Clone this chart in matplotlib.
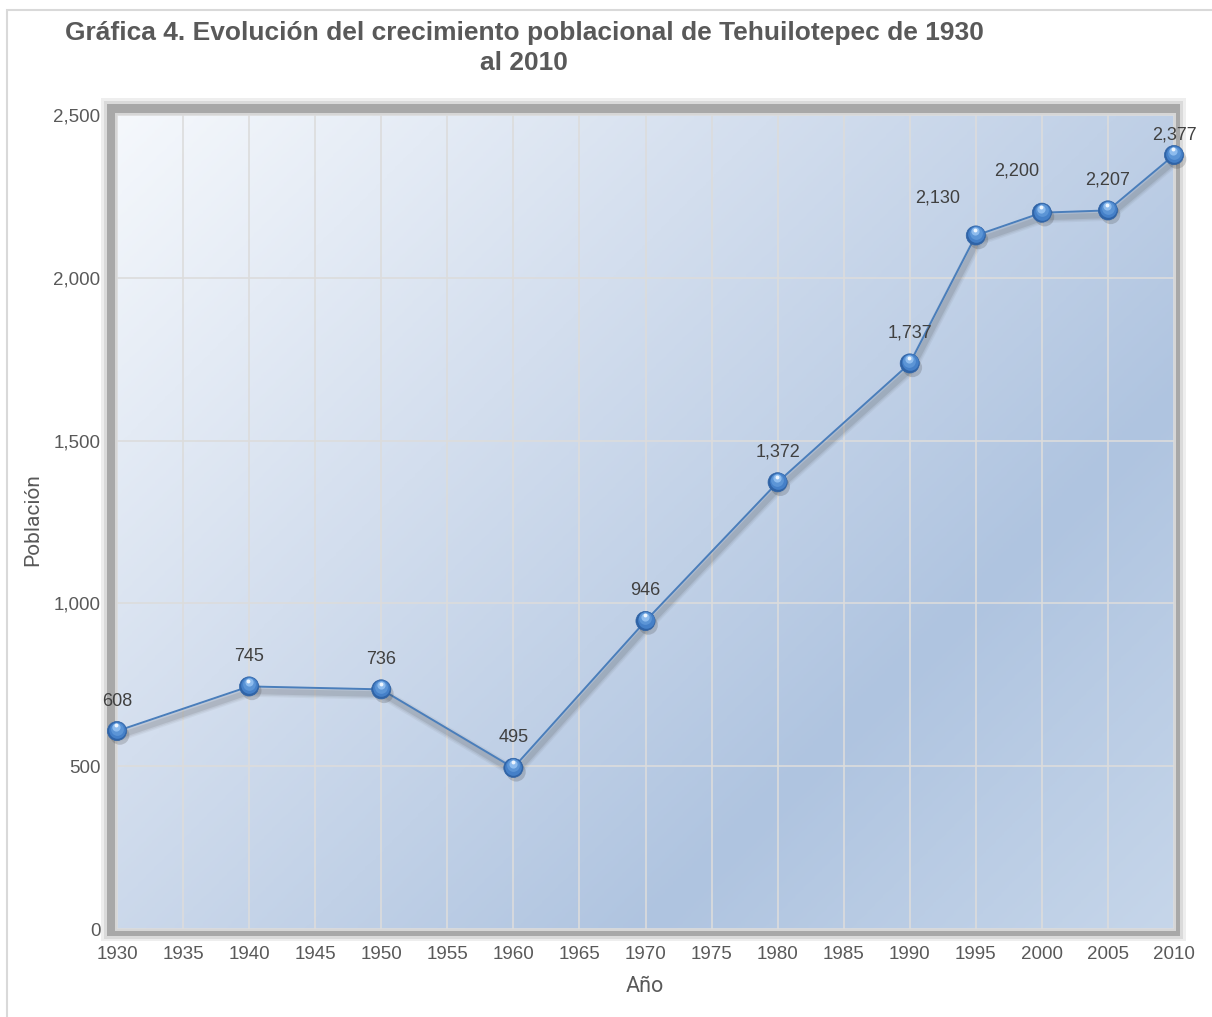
import matplotlib
matplotlib.use("Agg")
import matplotlib.pyplot as plt
import matplotlib.patheffects as pe
from matplotlib.patches import Rectangle
from matplotlib.colors import LinearSegmentedColormap
from matplotlib.transforms import offset_copy
import numpy as np

# --- datos ---
years = [1930, 1940, 1950, 1960, 1970, 1980, 1990, 1995, 2000, 2005, 2010]
poblacion = [608, 745, 736, 495, 946, 1372, 1737, 2130, 2200, 2207, 2377]
x_ticks = list(range(1930, 2011, 5))
y_ticks = [0, 500, 1000, 1500, 2000, 2500]

title = "Gráfica 4. Evolución del crecimiento poblacional de Tehuilotepec de 1930\nal 2010"

plt.rcParams['font.family'] = ['Liberation Sans', 'DejaVu Sans']

W, H = 1212, 1017
fig = plt.figure(figsize=(W / 100, H / 100), dpi=100)


def px_box(x0, y0, x1, y1):
    # caja en pixeles (origen arriba-izquierda) -> fracciones de figura
    return (x0 / W, 1 - y1 / H, (x1 - x0) / W, (y1 - y0) / H)


def add_rect(x0, y0, x1, y1, **kw):
    l, b, w, h = px_box(x0, y0, x1, y1)
    fig.add_artist(Rectangle((l, b), w, h, transform=fig.transFigure, **kw))


# borde del grafico y marco del area de trazado
add_rect(7, 10, 1240, 1040, facecolor='none', edgecolor='#d9d9d9', lw=1.5, zorder=-10)
add_rect(101, 98, 1186, 941, facecolor='#eeeeee', edgecolor='none', zorder=-9)
add_rect(104, 101, 1183, 939, facecolor='#dadada', edgecolor='none', zorder=-9)
add_rect(107, 104, 1180, 936, facecolor='#a8a8a8', edgecolor='none', zorder=-8)
add_rect(115, 113, 1176, 931, facecolor='#d6d6d6', edgecolor='none', zorder=-7)

ax = fig.add_axes(px_box(117, 115, 1174, 929))
ax.set_facecolor('none')
for s in ax.spines.values():
    s.set_visible(False)

# fondo degradado
gx, gy = np.meshgrid(np.linspace(0, 1, 400), np.linspace(0, 1, 400))
t = (gx * 1.3 + gy) / 2.3
cmap = LinearSegmentedColormap.from_list(
    'fondo', [(0, '#f5f8fc'), (0.35, '#d3deee'), (0.72, '#afc4e0'), (1, '#c6d6ea')])
ax.imshow(t, cmap=cmap, extent=(1930, 2010, 0, 2500), aspect='auto', zorder=0,
          interpolation='bilinear')

ax.set_xlim(1930, 2010)
ax.set_ylim(0, 2500)
ax.set_xticks(x_ticks)
ax.set_yticks(y_ticks)
ax.set_yticklabels([f"{v:,}" for v in y_ticks])
ax.tick_params(length=0, labelsize=13.5, labelcolor='#595959')
ax.tick_params(axis='x', pad=12)
ax.tick_params(axis='y', pad=12)
ax.set_axisbelow(True)
ax.grid(True, color='#dcdcdc', lw=1.2)

# linea con sombra difusa
shadow = [pe.SimpleLineShadow(offset=(1.5, -3.5), shadow_color='#404040',
                              alpha=a, linewidth=w)
          for a, w in [(0.06, 8), (0.08, 6), (0.12, 4)]]
ax.plot(years, poblacion, color='#4a7ebb', lw=1.4, zorder=3, clip_on=False,
        path_effects=shadow + [pe.Normal()])

# marcadores tipo esfera
ax.plot(years, poblacion, 'o', ms=13.8, mfc='#2f63a6', mec='#2f63a6', mew=0.5,
        zorder=4, clip_on=False,
        path_effects=[pe.SimplePatchShadow(offset=(2, -3), shadow_rgbFace='#404040',
                                           alpha=0.22), pe.Normal()])
layers = [
    (12.0, '#4580c8', 0.0, 0.8),
    (9.2, '#5c95d6', -0.2, 1.8),
    (5.9, '#8ebcee', -0.4, 3.0),
    (2.8, '#eef6fe', -0.5, 4.1),
]
for ms, col, dx, dy in layers:
    tr = offset_copy(ax.transData, fig=fig, x=dx, y=dy, units='points')
    ax.plot(years, poblacion, 'o', ms=ms, mfc=col, mec='none', zorder=5,
            clip_on=False, transform=tr)

# etiquetas de datos (desplazamiento en pixeles)
label_shift = {1995: (-38, 37), 2000: (-25, 42), 2010: (0, 20)}
for x, v in zip(years, poblacion):
    dx, dy = label_shift.get(x, (0, 30))
    ax.annotate(f"{v:,}", (x, v), xytext=(dx * 0.72, dy * 0.72),
                textcoords='offset points', ha='center', va='center',
                fontsize=13, color='#404040', zorder=6, annotation_clip=False)

# titulo y ejes
fig.text(524 / W, 1 - 21 / H, title, ha='center', va='top', fontsize=19,
         fontweight='bold', color='#595959', linespacing=1.3)
fig.text(645 / W, 1 - 986 / H, 'Año', ha='center', va='center', fontsize=15.5,
         color='#595959', family='Roboto')
fig.text(33 / W, 1 - 520 / H, 'Población', ha='center', va='center', fontsize=15,
         color='#595959', family='Roboto', rotation=90)

fig.savefig('out.png', dpi=100)
